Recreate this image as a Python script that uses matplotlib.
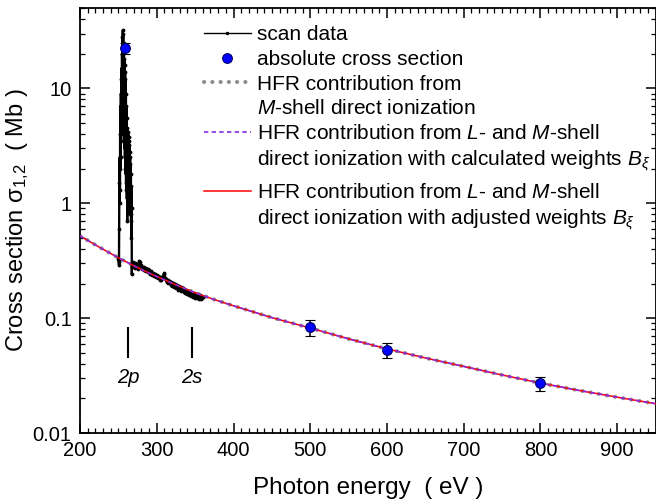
import matplotlib
matplotlib.use('Agg')
import matplotlib.pyplot as plt
from matplotlib.lines import Line2D
from matplotlib.ticker import LogLocator, MultipleLocator, FixedLocator, FixedFormatter, NullFormatter

plt.rcParams['font.family'] = ['Liberation Sans', 'DejaVu Sans']
plt.rcParams['mathtext.fontset'] = 'custom'
plt.rcParams['mathtext.rm'] = 'Liberation Sans'
plt.rcParams['mathtext.it'] = 'Liberation Sans:italic'
plt.rcParams['mathtext.bf'] = 'Liberation Sans:bold'

# ---------------- data ----------------
scan_energy = [
    250.00, 250.25, 250.50, 250.75, 251.00, 251.25, 251.50, 251.75, 252.00, 252.25,
    252.50, 252.75, 253.00, 253.25, 253.50, 253.75, 254.00, 254.25, 254.50, 254.75,
    255.00, 255.25, 255.50, 255.75, 256.00, 256.25, 256.50, 256.75, 257.00, 257.25,
    257.50, 257.75, 258.00, 258.25, 258.50, 258.75, 259.00, 259.25, 259.50, 259.75,
    260.00, 260.25, 260.50, 260.75, 261.00, 261.25, 261.50, 261.75, 262.00, 262.25,
    262.50, 262.75, 263.00, 263.25, 263.50, 263.75, 264.00, 264.25, 264.50, 264.75,
    265.00, 265.25, 265.50, 265.75, 266.00, 266.25, 266.50, 266.75, 267.00, 267.25,
    267.50, 267.75,
    268, 269, 270, 271, 272, 273, 274, 275, 276, 277, 278, 279, 280,
    281, 282, 283, 284, 285, 286, 287, 288, 289, 290, 291, 292, 293, 294,
    295, 296, 297, 298, 299, 300, 301, 302, 303, 304, 305, 306, 307, 308,
    309, 310, 311, 312, 313, 314, 315, 316, 317, 318, 319, 320, 321, 322,
    323, 324, 325, 326, 327, 328, 329, 330, 331, 332, 333, 334, 335, 336,
    337, 338, 339, 340, 341, 342, 343, 344, 345, 346, 347, 348, 349, 350,
    351, 352, 353, 354, 355, 356, 357, 358, 359, 360]
scan_sigma = [
    0.33, 0.32, 0.31, 0.29, 0.6, 1.5, 1.0, 2.5, 1.3, 4.0,
    2.0, 7.0, 2.5, 9.0, 3.5, 12.0, 4.0, 15.0, 5.0, 20.0,
    6.0, 28.0, 8.0, 32.0, 7.0, 30.0, 6.0, 25.0, 5.0, 22.0,
    4.0, 18.0, 3.0, 16.0, 2.5, 14.0, 2.0, 12.0, 1.8, 9.0,
    1.5, 7.0, 1.3, 5.5, 1.1, 4.5, 0.7, 4.0, 1.2, 3.5,
    1.0, 4.2, 0.9, 3.8, 1.1, 3.5, 1.0, 3.2, 0.8, 2.8,
    1.0, 2.5, 0.9, 2.2, 0.8, 1.8, 0.7, 1.4, 0.5, 0.9,
    0.24, 0.28,
    0.28, 0.305, 0.29, 0.275, 0.30, 0.285, 0.295, 0.27, 0.29, 0.315, 0.305, 0.28, 0.29,
    0.265, 0.275, 0.28, 0.26, 0.272, 0.255, 0.265, 0.27, 0.25, 0.262, 0.243, 0.255, 0.25, 0.236,
    0.248, 0.232, 0.244, 0.24, 0.226, 0.238, 0.222, 0.234, 0.228, 0.216, 0.229, 0.213, 0.226, 0.228,
    0.24, 0.245, 0.225, 0.218, 0.205, 0.216, 0.201, 0.212, 0.208, 0.196, 0.207, 0.192, 0.203, 0.198,
    0.186, 0.197, 0.184, 0.193, 0.188, 0.177, 0.19, 0.18, 0.186, 0.172, 0.183, 0.178, 0.168, 0.179,
    0.166, 0.176, 0.171, 0.161, 0.173, 0.16, 0.169, 0.164, 0.155, 0.166, 0.154, 0.164, 0.158, 0.15,
    0.162, 0.149, 0.16, 0.153, 0.147, 0.158, 0.146, 0.156, 0.149, 0.152]

abs_energy = [258.5, 500, 600, 800]
abs_sigma = [22.5, 0.083, 0.053, 0.027]
abs_err = [2.5, 0.013, 0.008, 0.004]

hfr_energy = [200, 225, 250, 275, 300, 325, 350, 375, 400, 450, 500, 550,
              600, 650, 700, 750, 800, 850, 900, 950]
hfr_m_shell = [0.52, 0.415, 0.335, 0.275, 0.23, 0.195, 0.166, 0.145, 0.128, 0.101,
               0.082, 0.066, 0.054, 0.045, 0.038, 0.032, 0.0272, 0.0235, 0.0205, 0.018]
hfr_lm_calc = [0.52, 0.415, 0.335, 0.275, 0.23, 0.195, 0.166, 0.145, 0.128, 0.101,
               0.082, 0.066, 0.054, 0.045, 0.038, 0.032, 0.0272, 0.0235, 0.0205, 0.018]
hfr_lm_adj = [0.52, 0.415, 0.335, 0.275, 0.23, 0.195, 0.166, 0.145, 0.128, 0.101,
              0.082, 0.066, 0.054, 0.045, 0.038, 0.032, 0.0272, 0.0235, 0.0205, 0.018]

edge_energy = [263, 345.5]
edge_label = ['2p', '2s']

x_ticks = [200, 300, 400, 500, 600, 700, 800, 900]
y_ticks = [0.01, 0.1, 1, 10]
y_ticklabels = ['0.01', '0.1', '1', '10']

# ---------------- figure ----------------
fig = plt.figure(figsize=(6.56, 5.01), dpi=100)
ax = fig.add_axes([0.122, 0.1357, 0.8773, 0.8483])

gray_c = '#8c8c8c'
purple_c = '#8a2be2'
red_c = '#ff0000'

ax.plot(hfr_energy, hfr_m_shell, color=gray_c, lw=2.9, linestyle=(0, (0.05, 2.0)),
        dash_capstyle='round', zorder=1)
ax.plot(scan_energy, scan_sigma, color='black', lw=1.7, marker='.', ms=3.5, zorder=2)
ax.plot(hfr_energy, hfr_lm_adj, color=red_c, lw=1.1, zorder=3)
ax.plot(hfr_energy, hfr_lm_calc, color=purple_c, lw=1.2, linestyle=(0, (2.6, 2.0)), zorder=4)
ax.errorbar(abs_energy, abs_sigma, yerr=abs_err, fmt='o', color='black', ms=7,
            mfc='#0000ff', mec='#000066', mew=0.8, ecolor='black', elinewidth=1.1,
            capsize=3.5, capthick=1.1, zorder=5)

for e, lab in zip(edge_energy, edge_label):
    ax.vlines(e, 0.0448, 0.0834, color='black', lw=1.5)
    ax.text(e, 0.0307, lab, ha='center', va='center', fontsize=14.5, style='italic')

ax.set_yscale('log')
ax.set_xlim(200, 950)
ax.set_ylim(0.01, 50)

ax.xaxis.set_major_locator(FixedLocator(x_ticks))
ax.xaxis.set_minor_locator(MultipleLocator(10))
ax.yaxis.set_major_locator(FixedLocator(y_ticks))
ax.yaxis.set_major_formatter(FixedFormatter(y_ticklabels))
ax.yaxis.set_minor_locator(LogLocator(base=10, subs=range(2, 10)))
ax.yaxis.set_minor_formatter(NullFormatter())

ax.tick_params(which='both', direction='in', top=True, right=True, labelsize=14.5)
ax.tick_params(which='major', length=7, width=1.1, pad=6)
ax.tick_params(which='minor', length=3.5, width=0.9)
for s in ax.spines.values():
    s.set_linewidth(1.3)

ax.set_xlabel('Photon energy  ( eV )', fontsize=17.5, labelpad=12)
ax.set_ylabel('Cross section σ$_{\\mathregular{1{,}2}}$  ( Mb )', fontsize=17, labelpad=1.5)

# ---------------- legend ----------------
blank = Line2D([], [], linestyle='none')
h_scan = Line2D([], [], color='black', lw=1.0, marker='.', ms=3)
h_abs = Line2D([], [], linestyle='none', marker='o', ms=7, mfc='#0000ff', mec='#000066', mew=0.8)
h_gray = Line2D([], [], color=gray_c, lw=2.9, linestyle=(0, (0.05, 2.0)), dash_capstyle='round')
h_purple = Line2D([], [], color=purple_c, lw=1.2, linestyle=(0, (2.6, 2.0)))
h_red = Line2D([], [], color=red_c, lw=1.1)

leg_kw = dict(loc='upper left', frameon=False, fontsize=15, handlelength=2.25,
              handletextpad=0.3, labelspacing=0.27, borderpad=0, borderaxespad=0,
              numpoints=1)
leg1 = ax.legend([h_scan, h_abs, h_gray, blank, h_purple, blank],
                 ['scan data', 'absolute cross section', 'HFR contribution from',
                  '$M$-shell direct ionization',
                  'HFR contribution from $L$- and $M$-shell',
                  'direct ionization with calculated weights $B_\\xi$'],
                 bbox_to_anchor=(0.215, 0.959), **leg_kw)
ax.add_artist(leg1)
ax.legend([h_red, blank],
          ['HFR contribution from $L$- and $M$-shell',
           'direct ionization with adjusted weights $B_\\xi$'],
          bbox_to_anchor=(0.215, 0.588), **leg_kw)

fig.savefig('out.png', dpi=100)
